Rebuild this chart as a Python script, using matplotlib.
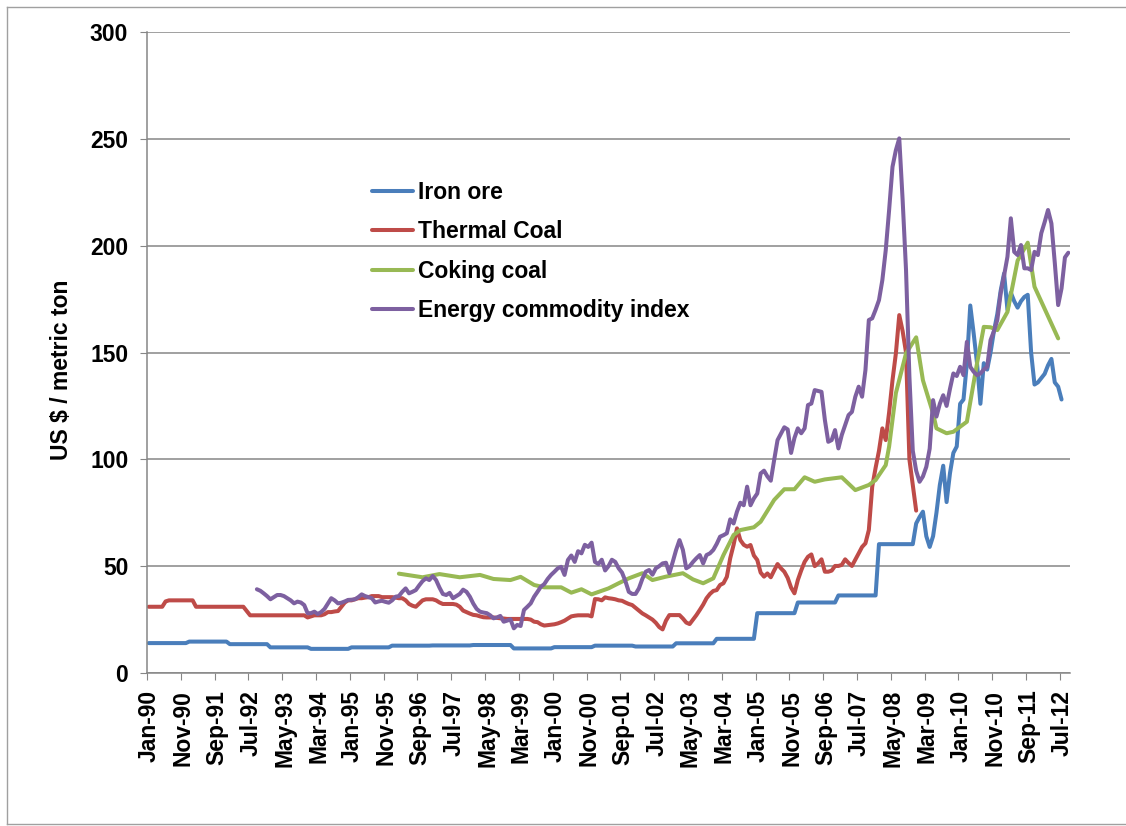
import numpy as np
import matplotlib
matplotlib.use("Agg")
import matplotlib.pyplot as plt
from matplotlib.lines import Line2D
from matplotlib.transforms import ScaledTranslation

# ---------------- data ----------------
tick_labels = ['Jan-90', 'Nov-90', 'Sep-91', 'Jul-92', 'May-93', 'Mar-94', 'Jan-95',
               'Nov-95', 'Sep-96', 'Jul-97', 'May-98', 'Mar-99', 'Jan-00', 'Nov-00',
               'Sep-01', 'Jul-02', 'May-03', 'Mar-04', 'Jan-05', 'Nov-05', 'Sep-06',
               'Jul-07', 'May-08', 'Mar-09', 'Jan-10', 'Nov-10', 'Sep-11', 'Jul-12']
n_months = 273  # Jan-90 .. Sep-12

# Iron ore: annual contract price 1990..2008 (2008 runs Jan..Nov), then monthly spot Dec-08..Jul-12
iron_ore_contract = [14.0, 14.7, 13.5, 12.0, 11.3, 12.0, 12.8, 12.9, 13.1, 11.5,
                     12.1, 12.8, 12.4, 13.9, 16.0, 28.0, 33.0, 36.3, 60.3]
iron_ore_contract_months = [12] * 18 + [11]
iron_ore_spot = [70, 73, 75.5, 64, 59, 64, 75, 88, 97, 80, 93.5, 103, 106,
                 126, 128, 145, 172, 159, 145, 126, 145, 142, 150, 160, 168,
                 179, 187, 170, 178, 174, 171, 174, 176, 177, 150, 135, 136,
                 138, 140, 144, 147, 136, 134, 128]

# Thermal coal, monthly Jan-90 .. Dec-08
thermal_coal = [
    31, 31, 31, 31, 31, 33.5, 34, 34, 34, 34, 34, 34,
    34, 34, 31, 31, 31, 31, 31, 31, 31, 31, 31, 31,
    31, 31, 31, 31, 31, 29, 27, 27, 27, 27, 27, 27,
    27, 27, 27, 27, 27, 27, 27, 27, 27, 27, 27, 26,
    26.5, 27, 27, 27, 27.5, 28.5, 28.5, 28.8, 29, 31, 33, 34,
    34, 34.5, 35, 35, 35.3, 35.5, 36, 36, 36, 35.5, 35.5, 35.5,
    35.5, 35.3, 35, 35, 34, 32.3, 31.5, 31, 32.5, 34, 34.5, 34.5,
    34.5, 34, 33, 32.3, 32.3, 32.3, 32.3, 32, 31, 29.2, 28.5, 27.8,
    27.2, 27, 26.5, 26.1, 26, 26, 26, 25.8, 25.6, 25.5, 25.3, 25.3,
    25.3, 25.3, 25.3, 25.3, 25.3, 25, 24, 23.8, 22.8, 22.2, 22.4, 22.6,
    22.8, 23.2, 23.8, 24.5, 25.5, 26.5, 26.8, 27, 27, 27, 27, 26.5,
    34.6, 34.5, 34, 35.4, 35, 34.8, 34.5, 34, 33.8, 33, 32.3, 31.8,
    30.5, 29.2, 27.9, 27, 26, 25, 23.5, 21.5, 20.4, 24.5, 27.1, 27.1,
    27.1, 27.1, 25.5, 23.6, 22.9, 25, 27.1, 29.5, 32, 35, 37, 38.4,
    38.8, 41.2, 42, 45, 53.7, 60, 67.7, 62.2, 60, 59.1, 59.9, 55,
    52.9, 47, 45.1, 46.6, 44.8, 48, 51, 49, 47.4, 44.5, 40, 37.3,
    43.5, 48, 52, 54.4, 55.5, 50, 51.3, 53.2, 47.4, 47.4, 47.9, 50.1,
    50.1, 50.6, 53.2, 51.5, 50.1, 53, 56, 59, 60.7, 66.9, 87.2, 96,
    104, 114.5, 109, 122, 137, 149.6, 167.5, 160, 150, 100, 88, 76]

# Coking coal: observation month index (0 = Jan-90) and price
coking_month = [74, 81, 86, 92, 98, 102, 107, 110, 114, 117, 122, 125, 128, 131,
                136, 139, 142, 146, 149, 153, 158, 161, 164, 167, 170, 173, 175,
                179, 181, 185, 188, 191, 194, 197, 200, 205, 209, 213, 215, 218,
                219, 221, 224, 227, 229, 232, 233, 236, 238, 242, 245, 247, 249,
                251, 254, 257, 260, 262, 269]
coking_coal = [46.5, 44.8, 46.3, 44.8, 45.9, 44.0, 43.5, 45.0, 41.2, 40.1, 40.1,
               37.6, 39.2, 36.8, 39.6, 42.0, 44.3, 46.7, 43.5, 45.1, 46.7, 43.8,
               42.0, 44.3, 55.2, 64.6, 66.9, 68.2, 70.8, 81.0, 86.0, 86.0, 91.6,
               89.5, 90.6, 91.6, 85.6, 88.0, 90.3, 97.3, 106.0, 131.0, 149.6,
               157.1, 137.0, 121.5, 114.5, 112.2, 112.9, 117.6, 144.9, 162.0,
               161.8, 160.5, 169.0, 193.0, 201.4, 180.8, 156.6]

# Energy commodity index, monthly Sep-92 .. Sep-12
energy_start = 32
energy_index = [
    39.2, 38.5, 37.3, 36.0,
    34.5, 35.5, 36.5, 36.5, 36.0, 35.0, 34.0, 32.6, 33.4, 33.0, 31.8, 28.0,
    28.0, 28.7, 27.6, 28.5, 30.0, 32.5, 35.0, 34.0, 32.6, 32.9, 33.5, 34.2,
    34.3, 34.5, 35.5, 36.8, 36.0, 35.5, 35.0, 33.0, 33.5, 33.8, 33.3, 32.9,
    34.0, 35.7, 36.0, 38.0, 39.6, 37.3, 38.0, 38.8, 41.0, 43.0, 44.3, 43.5,
    45.4, 43.5, 40.0, 37.0, 36.5, 37.5, 35.0, 36.0, 37.0, 39.0, 38.0, 35.7,
    32.5, 30.0, 28.7, 28.3, 28.0, 27.0, 25.6, 26.0, 26.7, 24.0, 24.5, 25.1,
    20.9, 22.5, 22.0, 29.5, 31.0, 32.6, 35.7, 38.0, 40.4, 41.6, 44.0, 45.9,
    47.4, 49.0, 49.7, 45.9, 52.9, 55.0, 52.0, 57.0, 56.0, 60.0, 59.0, 61.0,
    52.0, 51.0, 53.0, 48.0, 50.0, 53.0, 52.0, 49.0, 47.0, 43.0, 38.0, 37.0,
    37.0, 39.6, 44.0, 47.4, 48.2, 46.0, 49.0, 50.0, 51.3, 51.6, 46.7, 52.0,
    57.6, 62.2, 57.6, 49.0, 50.0, 52.0, 53.7, 55.2, 51.3, 55.2, 56.0, 57.6,
    60.4, 63.8, 64.5, 65.4, 71.9, 70.0, 75.5, 79.7, 78.5, 87.2, 78.5, 81.7,
    84.0, 93.4, 94.7, 92.0, 90.0, 99.7, 109.0, 112.0, 115.0, 114.0, 103.0, 110.0,
    114.5, 112.2, 114.5, 125.4, 126.1, 132.4, 132.0, 131.6, 118.4, 108.2, 109.0, 113.7,
    105.1, 111.4, 116.0, 120.7, 122.2, 129.3, 134.0, 129.3, 141.8, 165.2, 166.0, 170.0,
    174.5, 183.9, 197.9, 216.7, 236.9, 244.7, 250.2, 221.3, 188.6, 138.7, 104.0, 94.7,
    89.5, 92.0, 96.5, 105.0, 127.7, 120.0, 126.0, 130.0, 125.0, 133.0, 140.2, 139.0,
    143.3, 139.4, 155.0, 143.3, 141.0, 139.4, 140.2, 142.0, 143.3, 155.8, 160.0, 165.2,
    177.7, 186.0, 194.8, 212.8, 197.1, 195.6, 200.3, 189.4, 189.4, 188.6, 197.1, 195.6,
    205.8, 211.0, 216.7, 210.4, 192.0, 172.2, 180.0, 194.5, 196.7]

series_names = ['Iron ore', 'Thermal Coal', 'Coking coal', 'Energy commodity index']
series_colors = ['#4A7EBB', '#BE4B48', '#98B954', '#7D60A0']

# ---------------- figure ----------------
W, H = 1126, 826
fig = plt.figure(figsize=(W / 100, H / 100), dpi=100)
FONT = ['Liberation Sans', 'DejaVu Sans']
plt.rcParams['font.family'] = FONT
FS = 16.5

ax = fig.add_axes([147 / W, (H - 673) / H, (1070 - 147) / W, (673 - 32) / H])

iron_ore = np.concatenate([np.repeat(iron_ore_contract, iron_ore_contract_months), iron_ore_spot])
x_iron = np.arange(len(iron_ore)) + 0.5
x_thermal = np.arange(len(thermal_coal)) + 0.5
x_coking = np.array(coking_month) + 0.5
x_energy = np.arange(len(energy_index)) + energy_start + 0.5

lw = 2.9
kw = dict(lw=lw, solid_joinstyle='round', solid_capstyle='round')
ax.plot(x_iron, iron_ore, color=series_colors[0], **kw)
ax.plot(x_thermal, thermal_coal, color=series_colors[1], **kw)
ax.plot(x_coking, coking_coal, color=series_colors[2], **kw)
ax.plot(x_energy, energy_index, color=series_colors[3], **kw)

ax.set_xlim(0, n_months)
ax.set_ylim(0, 300)
ax.set_yticks(np.arange(0, 301, 50))
ax.set_xticks(np.arange(0, 271, 10))
ax.set_xticklabels(tick_labels, rotation=90, fontsize=FS, fontweight='bold')
ax.set_yticklabels([str(v) for v in range(0, 301, 50)], fontsize=FS, fontweight='bold')

gray = '#868686'
ax.yaxis.grid(True, color=gray, lw=1.1)
ax.set_axisbelow(True)
for s in ['top', 'right']:
    ax.spines[s].set_visible(False)
for s in ['left', 'bottom']:
    ax.spines[s].set_color(gray)
    ax.spines[s].set_linewidth(1.1)
ax.tick_params(axis='x', direction='out', length=5, width=0.8, color=gray, pad=7)
ax.tick_params(axis='y', direction='out', length=5, width=0.8, color=gray, pad=8.5)

shift = ScaledTranslation(2.5 / 100, 0, fig.dpi_scale_trans)
for lab in ax.get_xticklabels():
    lab.set_transform(lab.get_transform() + shift)

fig.text(62 / W, 1 - 370 / H, 'US $ / metric ton', rotation=90, ha='center', va='center',
         fontsize=FS, fontweight='bold')

handles = [Line2D([], [], color=c, lw=lw, solid_capstyle='round') for c in series_colors]
ax.legend(handles, series_names, loc='upper left', bbox_to_anchor=(372 / W, 1 - 181 / H),
          bbox_transform=fig.transFigure, frameon=False, borderpad=0, borderaxespad=0,
          handlelength=1.8, handletextpad=0.2, labelspacing=0.72,
          prop=dict(family=FONT, weight='bold', size=FS))

# outer chart border (right edge lies outside the picture)
bc = '#A0A0A0'
fig.add_artist(Line2D([7 / W, 7 / W], [1 - 7 / H, 1 - 824 / H], color=bc, lw=1.0, transform=fig.transFigure))
fig.add_artist(Line2D([7 / W, 1.0], [1 - 7 / H, 1 - 7 / H], color=bc, lw=1.0, transform=fig.transFigure))
fig.add_artist(Line2D([7 / W, 1.0], [1 - 824 / H, 1 - 824 / H], color=bc, lw=1.0, transform=fig.transFigure))

fig.savefig('out.png', dpi=100)
